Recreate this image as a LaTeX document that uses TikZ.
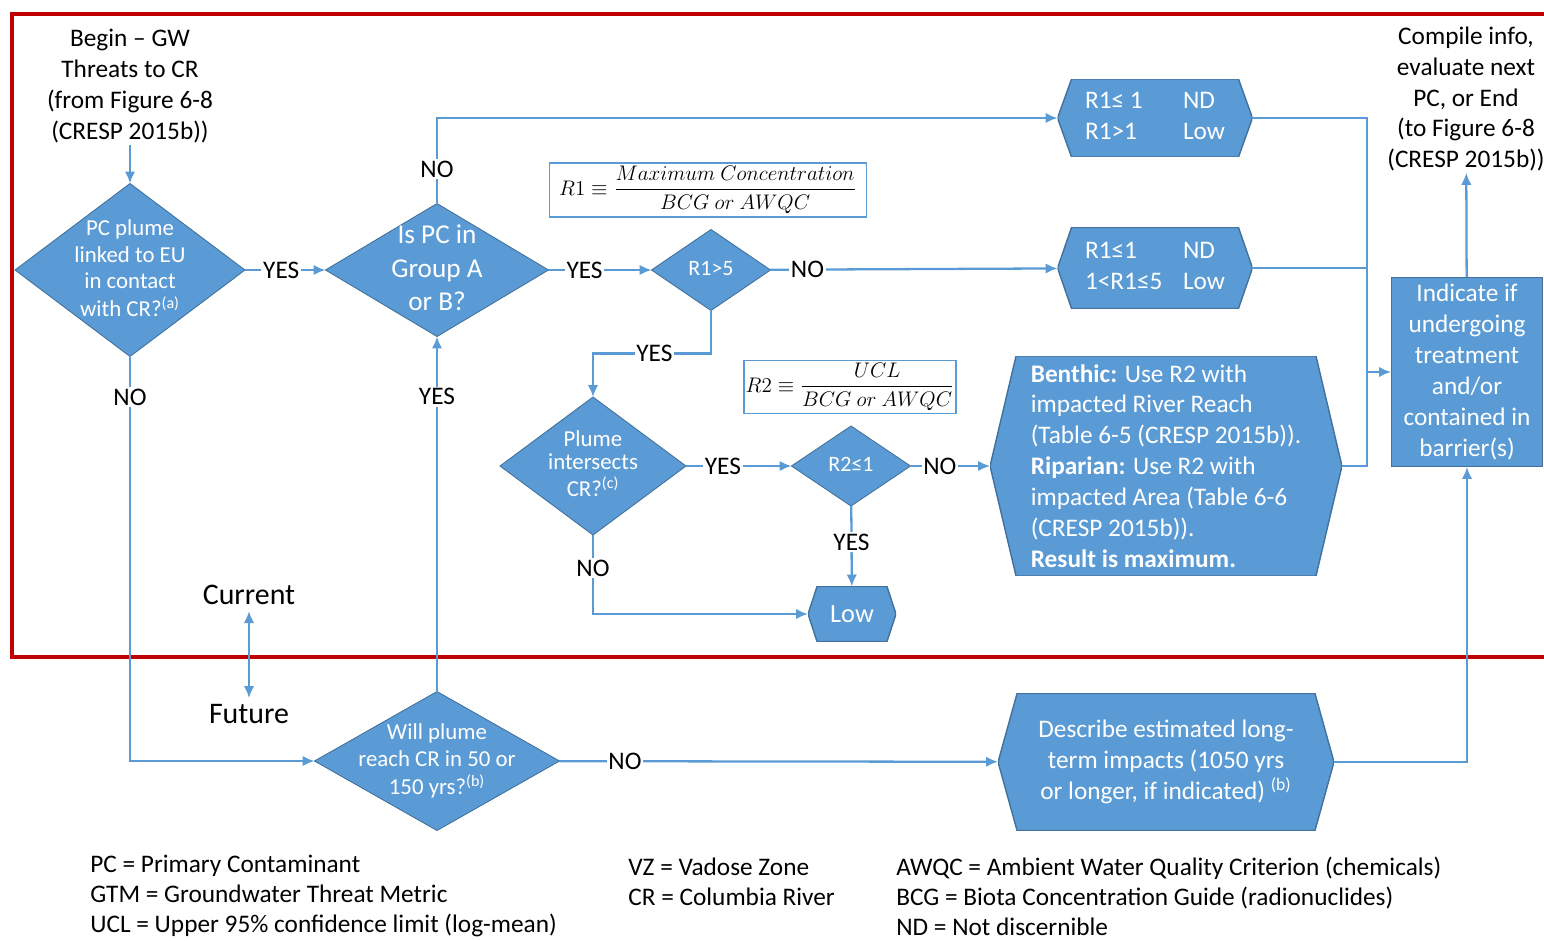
\documentclass[tikz,border=0pt]{standalone}
\usepackage{amsmath}
\usepackage{fontspec}
\setmainfont{Carlito}
\usetikzlibrary{shapes.geometric, arrows.meta}
\definecolor{bfill}{HTML}{5B9BD5}
\definecolor{bedge}{HTML}{41719C}
\definecolor{rline}{HTML}{C00000}
\newcommand\dtext[1]{\smash{\makebox[0pt]{\raisebox{-0.25em}{\begin{tabular}{@{}c@{}}#1\end{tabular}}}}}
\begin{document}
\begin{tikzpicture}[x=0.02cm, y=-0.02cm, >={Latex[length=2.4mm, width=2.1mm]},
  font=\fontsize{14.4}{17.6}\selectfont,
  dia/.style={diamond, fill=bfill, draw=bedge, line width=0.5pt, inner sep=0pt, outer sep=0pt, text=white},
  hx/.style={rectangle, fill=white, inner sep=0pt, outer sep=0pt, text=white, align=left,
    path picture={\fill[bfill, draw=bedge, line width=0.8pt] (path picture bounding box.west)
      -- ([xshift=#1]path picture bounding box.north west) -- ([xshift=-#1]path picture bounding box.north east)
      -- (path picture bounding box.east) -- ([xshift=-#1]path picture bounding box.south east)
      -- ([xshift=#1]path picture bounding box.south west) -- cycle;}},
  box/.style={rectangle, fill=bfill, draw=bedge, line width=0.5pt, text=white, align=center, inner sep=0pt},
  frm/.style={draw=bfill, line width=0.8pt, inner sep=1pt, font=\fontsize{13.2}{15}\selectfont},
  txt/.style={align=center, inner sep=1pt},
  lbl/.style={fill=white, inner sep=1pt},
  con/.style={draw=bfill, line width=1.3pt},
  leg/.style={align=left, anchor=west, inner sep=0pt, font=\fontsize{14.4}{17.1}\selectfont}]
\useasboundingbox (0,0) rectangle (1544,940);

% current / future frame
\draw[rline, line width=1.8pt] (1544,14) -- (12,14) -- (12,657) -- (1544,657);

\node[txt] (start) at (130,86) {Begin -- GW\\Threats to CR\\(from Figure 6-8\\(CRESP 2015b))};
\node[txt, font=\fontsize{14.4}{17.4}\selectfont] (end) at (1466,99) {Compile info,\\evaluate next\\PC, or End\\(to Figure 6-8\\(CRESP 2015b))};

\node[dia, minimum width=4.6cm, minimum height=3.46cm, font=\fontsize{13}{15.3}\selectfont] (d1) at (130,270)
  {\dtext{PC plume\\linked to EU\\in contact\\with CR?\textsuperscript{(a)}}};
\node[dia, minimum width=4.46cm, minimum height=2.66cm, font=\fontsize{15.5}{19}\selectfont] (d2) at (437,270)
  {\dtext{Is PC in\\Group A\\or B?}};
\node[dia, minimum width=2.38cm, minimum height=1.62cm, font=\fontsize{12.5}{15}\selectfont] (d3) at (711,270)
  {\dtext{R1>5}};
\node[dia, minimum width=3.72cm, minimum height=2.76cm, font=\fontsize{13}{13.5}\selectfont] (d4) at (593,466)
  {\dtext{Plume\\intersects\\CR?\textsuperscript{(c)}}};
\node[dia, minimum width=2.38cm, minimum height=1.6cm, font=\fontsize{12.5}{15}\selectfont] (d5) at (851,466)
  {\dtext{R2≤1}};
\node[dia, minimum width=4.9cm, minimum height=2.78cm, font=\fontsize{13}{15.6}\selectfont] (d6) at (437,761)
  {\dtext{Will plume\\reach CR in 50 or\\150 yrs?\textsuperscript{(b)}}};

\node[frm, minimum width=6.34cm, minimum height=1.08cm] (f1) at (708,190)
  {$R1\equiv\dfrac{Maximum\ Concentration}{BCG\ or\ AWQC}$};
\node[frm, minimum width=4.08cm, minimum height=1.06cm] (f2) at (850,387)
  {$R2\equiv\dfrac{UCL}{BCG\ or\ AWQC}$};

\node[hx=0.28cm, minimum width=3.9cm, minimum height=1.56cm] (hx1) at (1155,118)
  {\begin{tabular}{@{}p{1.96cm}@{}l@{}}R1≤ 1 & ND\\R1>1 & Low\end{tabular}};
\node[hx=0.28cm, minimum width=3.9cm, minimum height=1.62cm] (hx2) at (1155,268)
  {\begin{tabular}{@{}p{1.96cm}@{}l@{}}R1≤1 & ND\\1<R1≤5 & Low\end{tabular}};
\node[hx=0.52cm, minimum width=7.04cm, minimum height=4.4cm] (bx) at (1166,466)
  {\textbf{Benthic:} Use R2 with\\impacted River Reach\\(Table 6-5 (CRESP 2015b)).\\\textbf{Riparian:} Use R2 with\\impacted Area (Table 6-6\\(CRESP 2015b)).\\\textbf{Result is maximum.}};
\node[hx=0.18cm, minimum width=1.76cm, minimum height=1.1cm, font=\fontsize{15}{18}\selectfont] (low) at (852,614) {Low};
\node[hx=0.38cm, minimum width=6.72cm, minimum height=2.74cm, align=center, font=\fontsize{14.4}{17.8}\selectfont] (ds) at (1166,762)
  {Describe estimated long-\\term impacts (1050 yrs\\or longer, if indicated) \textsuperscript{(b)}};
\node[box, minimum width=3.02cm, minimum height=3.78cm] (ind) at (1467,372)
  {Indicate if\\undergoing\\treatment\\and/or\\contained in\\barrier(s)};

\node[font=\fontsize{17}{20}\selectfont] (cur) at (249,595) {Current};
\node[font=\fontsize{17}{20}\selectfont] (fut) at (249,714) {Future};

\draw[con, ->] (start) -- (d1);
\draw[con, ->] (d1) -- node[lbl, pos=0.45] (y1) {YES} (d2);
\draw[con, ->] (d2) |- node[lbl, pos=0.2] (n1) {NO} (hx1);
\draw[con, ->] (d2) -- node[lbl, pos=0.35] (y2) {YES} (d3);
\draw[con, ->] (d3) -- node[lbl, pos=0.13] (n2) {NO} (hx2);
\draw[con, ->] (d3.south) -- ++(0,43) -| node[lbl, pos=0.24] (y3) {YES} (d4.north);
\draw[con, ->] (d4) -- node[lbl, pos=0.35] (y4) {YES} (d5);
\draw[con, ->] (d5) -- node[lbl, pos=0.37] (n3) {NO} (bx);
\draw[con, ->] (d5) -- node[lbl, pos=0.45] (y5) {YES} (low);
\draw[con, ->] (d4.south) |- node[lbl, pos=0.21] (n4) {NO} (low.west);
\coordinate (j) at (1367,372);
\draw[con] (hx1.east) -| (j |- bx.east) -- (bx.east);
\draw[con] (hx2.east) -- (hx2.east -| j);
\draw[con, ->] (j) -- (ind.west);
\draw[con, ->] (ind) -- (end);
\draw[con, ->] (d1) |- node[lbl, pos=0.05] (n5) {NO} (d6);
\draw[con, ->] (d6) -- node[lbl, pos=0.83] (y6) {YES} (d2);
\draw[con, ->] (d6) -- node[lbl, pos=0.15] (n6) {NO} (ds);
\draw[con, ->] (ds) -| (ind);
\draw[con, <->] (cur) -- (fut);

\node[leg] (lg1) at (90,896) {PC = Primary Contaminant\\GTM = Groundwater Threat Metric\\UCL = Upper 95\% confidence limit (log-mean)};
\node[leg] (lg2) at (628,882) {VZ = Vadose Zone\\CR = Columbia River};
\node[leg] (lg3) at (896,896) {AWQC = Ambient Water Quality Criterion (chemicals)\\BCG = Biota Concentration Guide (radionuclides)\\ND = Not discernible};
\end{tikzpicture}
\end{document}
